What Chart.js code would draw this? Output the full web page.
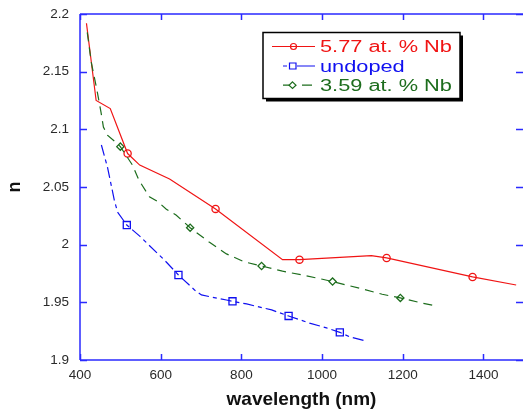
<!DOCTYPE html>
<html><head><meta charset="utf-8">
<script src="https://cdn.jsdelivr.net/npm/chart.js@4.4.0/dist/chart.umd.min.js"></script>
<style>html,body{margin:0;padding:0;background:#fff;overflow:hidden}#wrap{width:523px;height:409px;position:relative}</style>
</head><body><div id="wrap"><canvas id="c" width="523" height="409"></canvas></div>
<script>
// ---- data ----
const xTicks = [400, 600, 800, 1000, 1200, 1400];
const yTicks = [1.9, 1.95, 2, 2.05, 2.1, 2.15, 2.2];
const seriesLabels = ['5.77 at. % Nb', 'undoped', '3.59 at. % Nb'];
const xTitle = 'wavelength (nm)';
const yTitle = 'n';

// 5.77 at.% Nb (red)
const nb577X = [416, 440, 475, 518, 548, 622, 736, 902, 944, 1122, 1160, 1373, 1481];
const nb577Y = [2.192, 2.125, 2.118, 2.079, 2.069, 2.057, 2.031, 1.987, 1.987, 1.9905, 1.9885, 1.972, 1.965];
const nb577MarkX = [518, 736, 944, 1160, 1373];
const nb577MarkY = [2.079, 2.031, 1.987, 1.9885, 1.972];

// undoped (blue)
const undopedX = [453, 468, 485, 493, 516, 548, 609, 644, 684, 701, 726, 763, 778, 813, 875, 917, 969, 1011, 1044, 1069, 1108];
const undopedY = [2.0864, 2.0673, 2.0387, 2.0283, 2.017, 2.0074, 1.9867, 1.9737, 1.9607, 1.9564, 1.9546, 1.952, 1.9509, 1.9486, 1.9434, 1.9382, 1.932, 1.9278, 1.924, 1.920, 1.9165];
const undopedMarkX = [516, 644, 778, 917, 1044];
const undopedMarkY = [2.017, 1.9737, 1.9509, 1.9382, 1.924];

// 3.59 at.% Nb (green)
const nb359X = [418, 428, 442, 452, 458, 468, 488, 500, 530, 546, 572, 593, 614, 638, 673, 721, 763, 808, 850, 902, 951, 1001, 1026, 1100, 1149, 1194, 1246, 1283];
const nb359Y = [2.184, 2.158, 2.134, 2.115, 2.102, 2.095, 2.089, 2.085, 2.069, 2.056, 2.0416, 2.0373, 2.0307, 2.0257, 2.0147, 2.002, 1.992, 1.985, 1.9815, 1.977, 1.9737, 1.970, 1.968, 1.9616, 1.957, 1.9538, 1.9495, 1.9468];
const nb359MarkX = [500, 673, 850, 1026, 1194];
const nb359MarkY = [2.085, 2.0147, 1.9815, 1.968, 1.9538];

// ---- styles ----
const RED = '#f01414', BLUE = '#1010f0', GREEN = '#1d6d1d';
const AXIS = '#2a2aff';
const FONT = '"Liberation Sans", Arial, sans-serif';
const pts = (xs, ys) => xs.map((x, i) => ({x: x, y: ys[i]}));

const lineDs = (label, xs, ys, color, dash) => ({
  label, data: pts(xs, ys), showLine: true, borderColor: color, borderWidth: 1.2,
  borderDash: dash, pointRadius: 0, fill: false, tension: 0
});
const markDs = (label, xs, ys, color, style, r) => ({
  label, data: pts(xs, ys), showLine: false, pointStyle: style, pointRadius: r,
  pointBorderColor: color, pointBackgroundColor: 'rgba(0,0,0,0)', pointBorderWidth: 1.3
});

const frame = {
  id: 'frame',
  afterDraw(chart) {
    const {ctx, chartArea: a, scales: {x, y}} = chart;
    ctx.save();
    ctx.strokeStyle = AXIS; ctx.lineWidth = 1.5;
    ctx.beginPath();
    ctx.moveTo(a.left, a.top); ctx.lineTo(a.right, a.top);
    ctx.moveTo(a.left, a.top); ctx.lineTo(a.left, a.bottom);
    ctx.moveTo(a.left, a.bottom); ctx.lineTo(a.right, a.bottom);
    xTicks.forEach(v => {
      const px = Math.round(x.getPixelForValue(v)) + 0.5;
      ctx.moveTo(px, a.bottom); ctx.lineTo(px, a.bottom - 6);
      ctx.moveTo(px, a.top); ctx.lineTo(px, a.top + 6);
    });
    yTicks.forEach(v => {
      const py = Math.round(y.getPixelForValue(v)) + 0.5;
      ctx.moveTo(a.left, py); ctx.lineTo(a.left + 7, py);
      ctx.moveTo(a.right, py); ctx.lineTo(a.right - 7, py);
    });
    ctx.stroke();
    ctx.restore();
  }
};

const legendBox = {
  id: 'legendBox',
  afterDraw(chart) {
    const ctx = chart.ctx;
    const bx = 263, by = 32.5, bw = 197, bh = 66;
    ctx.save();
    ctx.fillStyle = '#000';
    ctx.fillRect(bx + 3, by + 3, bw, bh);
    ctx.fillStyle = '#fff';
    ctx.fillRect(bx, by, bw, bh);
    ctx.strokeStyle = '#000'; ctx.lineWidth = 1.5;
    ctx.strokeRect(bx, by, bw, bh);
    const rows = [
      {label: seriesLabels[0], color: RED, base: 52, kind: 'circle'},
      {label: seriesLabels[1], color: BLUE, base: 71.5, kind: 'square'},
      {label: seriesLabels[2], color: GREEN, base: 90.7, kind: 'diamond'}
    ];
    rows.forEach(r => {
      const cy = r.base - 5.5;
      ctx.strokeStyle = r.color; ctx.lineWidth = 1.2;
      ctx.beginPath();
      if (r.kind === 'circle') {
        ctx.moveTo(272, cy); ctx.lineTo(315, cy);
      } else if (r.kind === 'square') {
        ctx.moveTo(283, cy); ctx.lineTo(287, cy);
        ctx.moveTo(297, cy); ctx.lineTo(315, cy);
      } else {
        ctx.moveTo(283, cy); ctx.lineTo(289, cy);
        ctx.moveTo(302, cy); ctx.lineTo(312, cy);
      }
      ctx.stroke();
      ctx.beginPath();
      if (r.kind === 'circle') {
        ctx.arc(293.5, cy, 3, 0, Math.PI * 2);
      } else if (r.kind === 'square') {
        ctx.rect(289.5, cy - 3, 6.5, 6);
      } else {
        ctx.moveTo(292.5, cy - 3.3); ctx.lineTo(296, cy); ctx.lineTo(292.5, cy + 3.3); ctx.lineTo(289, cy); ctx.closePath();
      }
      ctx.stroke();
      ctx.save();
      ctx.translate(320, r.base);
      ctx.scale(1.36, 1);
      ctx.font = '16px ' + FONT;
      ctx.fillStyle = r.color;
      ctx.textBaseline = 'alphabetic';
      ctx.fillText(r.label, 0, 0);
      ctx.restore();
    });
    ctx.restore();
  }
};

new Chart(document.getElementById('c'), {
  type: 'scatter',
  data: {
    datasets: [
      lineDs(seriesLabels[1], undopedX, undopedY, BLUE, [11, 4, 4, 4]),
      lineDs(seriesLabels[2], nb359X, nb359Y, GREEN, [9, 6]),
      lineDs(seriesLabels[0], nb577X, nb577Y, RED, []),
      markDs(seriesLabels[1], undopedMarkX, undopedMarkY, BLUE, 'rect', 5),
      markDs(seriesLabels[2], nb359MarkX, nb359MarkY, GREEN, 'rectRot', 3.6),
      markDs(seriesLabels[0], nb577MarkX, nb577MarkY, RED, 'circle', 3.6)
    ]
  },
  options: {
    responsive: false, animation: false, devicePixelRatio: 1,
    layout: {autoPadding: false, padding: {top: 14, right: 0, bottom: 0, left: 0}},
    plugins: {legend: {display: false}, tooltip: {enabled: false}},
    scales: {
      x: {
        type: 'linear', min: 400, max: 1498,
        afterBuildTicks: s => { s.ticks = xTicks.map(v => ({value: v})); },
        afterFit: s => { s.height = 49; s.paddingLeft = 0; s.paddingRight = 0; },
        grid: {display: false, drawTicks: false}, border: {display: false},
        ticks: {color: '#2a2a2a', font: {size: 13.5, family: FONT}, padding: 7, maxRotation: 0, autoSkip: false,
                callback: v => String(v)},
        title: {display: true, text: xTitle, color: '#111', font: {size: 19, weight: 'bold', family: FONT, lineHeight: 1}, padding: {top: 0, bottom: 0}}
      },
      y: {
        type: 'linear', min: 1.9, max: 2.2,
        afterBuildTicks: s => { s.ticks = yTicks.map(v => ({value: v})); },
        afterFit: s => { s.width = 80; s.paddingTop = 0; s.paddingBottom = 0; },
        grid: {display: false, drawTicks: false}, border: {display: false},
        ticks: {color: '#2a2a2a', font: {size: 13.5, family: FONT}, padding: 11, autoSkip: false,
                callback: v => String(v)},
        title: {display: true, text: yTitle, color: '#111', font: {size: 18, weight: 'bold', family: FONT}, padding: {top: 4, bottom: 0}}
      }
    }
  },
  plugins: [frame, legendBox]
});
</script>
</body></html>
